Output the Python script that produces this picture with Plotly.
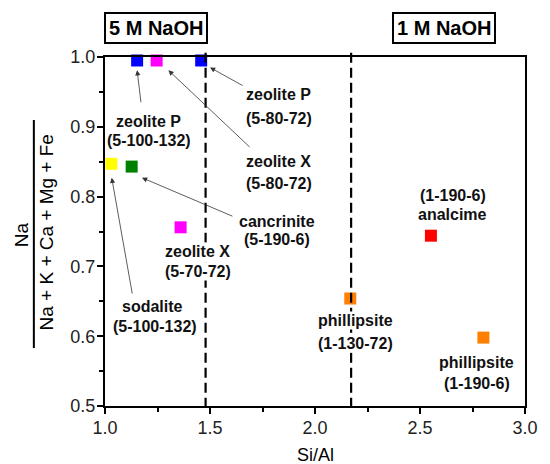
import plotly.graph_objects as go

# ---- data ----
phases = ["zeolite P (5-100-132)", "zeolite X (5-80-72)", "zeolite P (5-80-72)",
          "sodalite (5-100-132)", "cancrinite (5-190-6)", "zeolite X (5-70-72)",
          "analcime (1-190-6)", "phillipsite (1-130-72)", "phillipsite (1-190-6)"]
si_al = [1.153, 1.246, 1.458, 1.030, 1.127, 1.360, 2.552, 2.168, 2.802]
na_ratio = [0.995, 0.995, 0.995, 0.847, 0.843, 0.756, 0.744, 0.654, 0.598]
colors = ["#0000FF", "#FF00FF", "#0000FF", "#FFFF00", "#008000", "#FF00FF",
          "#FF0000", "#FF8000", "#FF8000"]
boundaries = [1.479, 2.172]
x_ticks = [1.0, 1.5, 2.0, 2.5, 3.0]
y_ticks = [0.5, 0.6, 0.7, 0.8, 0.9, 1.0]

# label text lines with positions (data coords)
labels = [
    ("zeolite P", 1.209, 0.907), ("(5-100-132)", 1.209, 0.880),
    ("zeolite P", 1.827, 0.9456), ("(5-80-72)", 1.827, 0.912),
    ("zeolite X", 1.827, 0.850), ("(5-80-72)", 1.827, 0.819),
    ("cancrinite", 1.820, 0.764), ("(5-190-6)", 1.820, 0.738),
    ("zeolite X", 1.441, 0.721), ("(5-70-72)", 1.441, 0.692),
    ("sodalite", 1.224, 0.642), ("(5-100-132)", 1.240, 0.614),
    ("(1-190-6)", 2.655, 0.802), ("analcime", 2.655, 0.774),
    ("phillipsite", 2.193, 0.623), ("(1-130-72)", 2.193, 0.590),
    ("phillipsite", 2.771, 0.562), ("(1-190-6)", 2.771, 0.532),
]
# arrows: (head x, head y, tail x, tail y)
arrows = [
    (1.153, 0.981, 1.172, 0.933),
    (1.500, 0.985, 1.662, 0.958),
    (1.302, 0.981, 1.696, 0.869),
    (1.176, 0.827, 1.614, 0.771),
    (1.032, 0.827, 1.131, 0.659),
]

FONT = "Liberation Sans, Arial"

fig = go.Figure()
fig.add_trace(go.Scatter(
    x=si_al, y=na_ratio, mode="markers", text=phases,
    marker=dict(symbol="square", size=12, color=colors, line=dict(width=0)),
    cliponaxis=False, showlegend=False))

for b in boundaries:
    fig.add_shape(type="line", xref="x", yref="paper", x0=b, x1=b, y0=-0.005, y1=1.012,
                  line=dict(color="black", width=2.2, dash="10px,5px"))

ann = []
for t, x, y in labels:
    ann.append(dict(x=x, y=y, xref="x", yref="y", text=t, showarrow=False,
                    font=dict(family=FONT, size=16, color="#111", weight="bold"),
                    xanchor="center", yanchor="middle", bgcolor="white", borderpad=0))
for hx, hy, tx, ty in arrows:
    ann.append(dict(x=hx, y=hy, ax=tx, ay=ty, xref="x", yref="y", axref="x", ayref="y",
                    text="", showarrow=True, arrowhead=2, arrowsize=1.3, arrowwidth=0.8,
                    arrowcolor="#333"))
# condition boxes
for t, xp in [("5 M NaOH", 0.1218), ("1 M NaOH", 0.806)]:
    ann.append(dict(x=xp, y=1.0817, xref="paper", yref="paper", text=t,
                    showarrow=False, xanchor="center", yanchor="middle",
                    font=dict(family=FONT, size=20, color="black", weight="bold"),
                    bordercolor="black", borderwidth=2, borderpad=3, bgcolor="white"))
# y-axis fraction title
ann.append(dict(x=-0.197, y=0.490, xref="paper", yref="paper", text="Na", textangle=-90,
                showarrow=False, xanchor="center", yanchor="middle",
                font=dict(family=FONT, size=19, color="black")))
ann.append(dict(x=-0.139, y=0.496, xref="paper", yref="paper",
                text="Na + K + Ca + Mg + Fe", textangle=-90,
                showarrow=False, xanchor="center", yanchor="middle",
                font=dict(family=FONT, size=19, color="black")))
ann.append(dict(x=0.5, y=-0.1404, xref="paper", yref="paper", text="Si/Al",
                showarrow=False, xanchor="center", yanchor="middle",
                font=dict(family=FONT, size=18, color="black")))
fig.add_shape(type="line", xref="paper", yref="paper", x0=-0.1694, x1=-0.1694,
              y0=0.166, y1=0.8195, line=dict(color="black", width=2))

axis_common = dict(showline=True, linewidth=2, linecolor="black", mirror=True,
                   showgrid=False, zeroline=False, ticks="outside", ticklen=6,
                   tickwidth=2, tickcolor="black", ticklabelstandoff=-2,
                   tickfont=dict(family=FONT, size=18, color="#222"))
fig.update_xaxes(range=[1.0, 3.0], tickvals=x_ticks, tickformat=".1f",
                 minor=dict(ticks="outside", ticklen=4, tickwidth=1.5, dtick=0.25,
                            tickcolor="black"), **axis_common)
fig.update_yaxes(range=[0.5, 1.0], tickvals=y_ticks, tickformat=".1f",
                 minor=dict(ticks="outside", ticklen=4, tickwidth=1.5, dtick=0.05,
                            tickcolor="black"), **axis_common)
fig.update_layout(width=550, height=464, margin=dict(l=105, r=14, t=57, b=58),
                  plot_bgcolor="white", paper_bgcolor="white", annotations=ann,
                  showlegend=False)
fig.write_html("out.html")
